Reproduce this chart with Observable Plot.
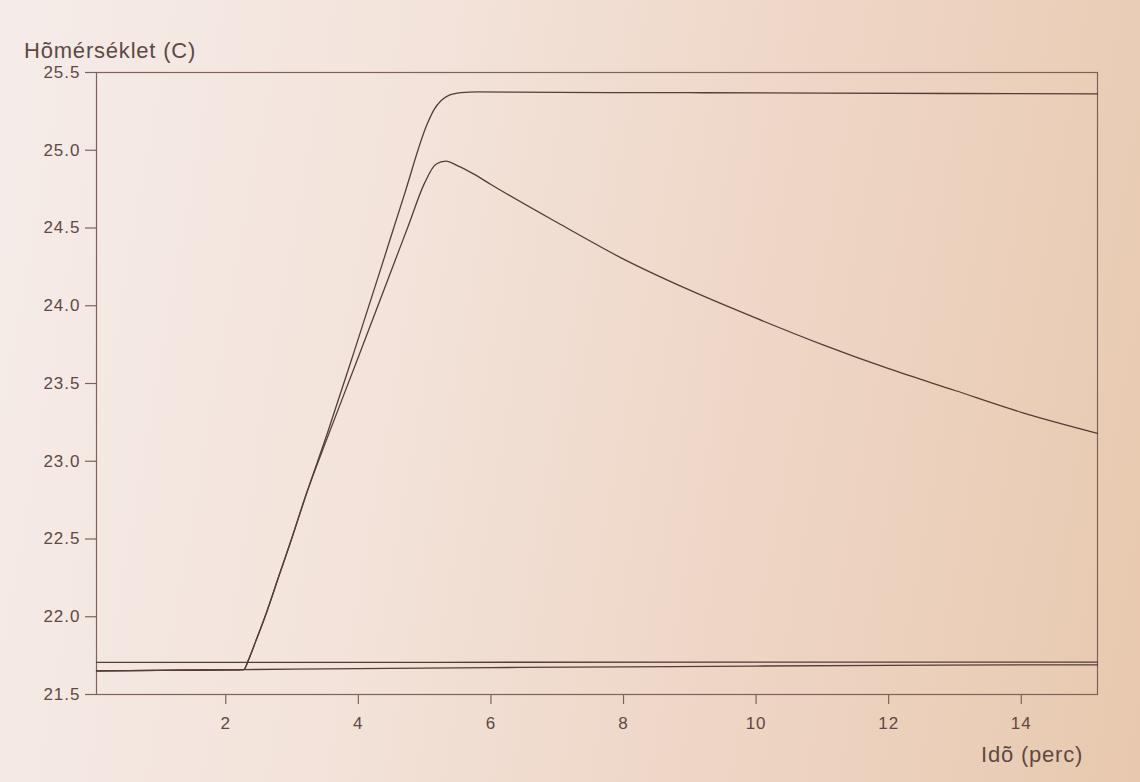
<!DOCTYPE html>
<html>
<head>
<meta charset="utf-8">
<script src="https://cdn.jsdelivr.net/npm/d3@7"></script>
<script src="https://cdn.jsdelivr.net/npm/@observablehq/plot@0.6"></script>
<style>
  html, body { margin: 0; padding: 0; }
  body { width: 1140px; height: 782px; overflow: hidden; }
  #wrap {
    position: relative; width: 1140px; height: 782px;
    background: linear-gradient(100deg, #f5ece9 0%, #f3e3da 35%, #eed6c6 65%, #e8c9af 100%);
    font-family: "Liberation Sans", Arial, sans-serif; color: #5e4943;
  }
  #chart { position: absolute; left: 0; top: 0; }
  .lbl { position: absolute; white-space: nowrap; letter-spacing: 0.8px; }
  #ylab { left: 24px; top: 38px; font-size: 22px; }
  #xlab { left: 981px; top: 742px; font-size: 22px; }
</style>
</head>
<body>
<div id="wrap">
  <div id="chart"></div>
  <div class="lbl" id="ylab">Hõmérséklet (C)</div>
  <div class="lbl" id="xlab">Idõ (perc)</div>
</div>
<script>
// Curve A: rises and stays at the plateau
const timeA = [0.05, 1, 2, 2.27, 2.35, 2.45, 2.6, 2.8, 3.0, 3.2, 3.54, 3.94, 4.31, 4.69, 5.04, 5.14, 5.25, 5.35, 5.55, 5.8, 7, 9, 11, 13, 15.15];
const tempA = [21.652, 21.655, 21.658, 21.66, 21.73, 21.84, 22.01, 22.26, 22.51, 22.77, 23.19, 23.71, 24.20, 24.71, 25.17, 25.26, 25.32, 25.35, 25.37, 25.375, 25.372, 25.37, 25.368, 25.365, 25.362];
// Curve B: rises, peaks, then cools down
const timeB = [0.05, 1, 2, 2.27, 2.35, 2.45, 2.6, 2.8, 3.0, 3.2, 3.54, 4.0, 4.5, 4.75, 5.0, 5.17, 5.32, 5.5, 5.75, 6, 7, 8, 9, 10, 11, 12, 13, 14, 15.15];
const tempB = [21.652, 21.655, 21.658, 21.66, 21.73, 21.84, 22.01, 22.26, 22.51, 22.77, 23.16, 23.67, 24.23, 24.51, 24.79, 24.91, 24.93, 24.90, 24.845, 24.78, 24.535, 24.30, 24.10, 23.92, 23.75, 23.595, 23.455, 23.315, 23.18];
// Lower baseline
const timeC = [0.05, 2.27, 4, 6, 8, 10, 12, 14, 15.15];
const tempC = [21.652, 21.66, 21.667, 21.673, 21.678, 21.683, 21.687, 21.69, 21.69];
// Upper baseline
const timeD = [0.05, 5, 10, 15.15];
const tempD = [21.706, 21.707, 21.708, 21.708];

const xTicks = [2, 4, 6, 8, 10, 12, 14];
const yTicks = [21.5, 22.0, 22.5, 23.0, 23.5, 24.0, 24.5, 25.0, 25.5];

const series = [
  ["A", timeA, tempA], ["B", timeB, tempB], ["C", timeC, tempC], ["D", timeD, tempD]
];
const rows = series.flatMap(([name, t, v]) => t.map((x, i) => ({series: name, time: x, temp: v[i]})));

const axisColor = "#7f625a";
const lineColor = "#553c36";

const chart = Plot.plot({
  width: 1140,
  height: 782,
  marginTop: 72,
  marginBottom: 88,
  marginLeft: 96,
  marginRight: 43,
  style: {
    background: "transparent",
    fontFamily: "'Liberation Sans', Arial, sans-serif",
    fontSize: "17px",
    color: "#5e4943",
    letterSpacing: "1px",
    overflow: "visible"
  },
  x: {domain: [0.05, 15.15]},
  y: {domain: [21.5, 25.5]},
  marks: [
    Plot.frame({stroke: axisColor, strokeWidth: 1.2}),
    Plot.axisX({ticks: xTicks, tickSize: 10, tickPadding: 12, label: null, stroke: axisColor, strokeWidth: 1.2, fontSize: 17}),
    Plot.axisY({ticks: yTicks, tickFormat: d3.format(".1f"), tickSize: 11, tickPadding: 5, label: null, stroke: axisColor, strokeWidth: 1.2, fontSize: 17}),
    Plot.line(rows, {x: "time", y: "temp", z: "series", stroke: lineColor, strokeWidth: 1.3, curve: "monotone-x"})
  ]
});
document.getElementById("chart").appendChild(chart);
</script>
</body>
</html>
